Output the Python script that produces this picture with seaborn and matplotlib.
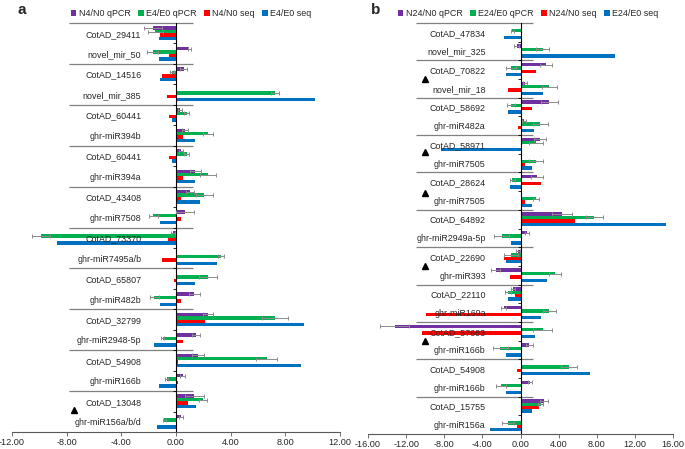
import matplotlib
matplotlib.use("Agg")
import matplotlib.pyplot as plt
import numpy as np
import pandas as pd
import seaborn as sns

sns.set_style("white")
plt.rcParams['font.family'] = ['Liberation Sans', 'DejaVu Sans']
plt.rcParams['axes.unicode_minus'] = False

# ---- panel a ----
cats_a = ["CotAD_29411", "novel_mir_50", "CotAD_14516", "novel_mir_385",
          "CotAD_60441", "ghr-miR394b", "CotAD_60441", "ghr-miR394a",
          "CotAD_43408", "ghr-miR7508", "CotAD_73370", "ghr-miR7495a/b",
          "CotAD_65807", "ghr-miR482b", "CotAD_32799", "ghr-miR2948-5p",
          "CotAD_54908", "ghr-miR166b", "CotAD_13048", "ghr-miR156a/b/d"]
names_a = ["N4/N0 qPCR", "E4/E0 qPCR", "N4/N0 seq", "E4/E0 seq"]
qpcr_n_a = [-1.71, 0.98, 0.56, 0, 0.30, 0.68, 0.37, 1.42, 1.05, 0.68,
            -0.24, 0, 0, 1.34, 2.37, 1.47, 1.59, 0.49, 1.34, 0.37]
err_n_a = [0.66, 0.10, 0.25, 0, 0.12, 0.22, 0.12, 0.42, 0.29, 0.66,
           0.15, 0, 0, 0.42, 0.37, 0.27, 0.44, 0.17, 0.68, 0.15]
qpcr_e_a = [-1.51, -1.71, -0.29, 7.25, 0.78, 2.34, 0.78, 2.34, 2.08, -1.66,
            -9.89, 3.30, 2.32, -1.59, 7.25, -0.98, 6.64, -0.68, 1.95, -0.85]
err_e_a = [0.56, 0.42, 0.15, 0.27, 0.20, 0.37, 0.20, 0.61, 0.61, 0.34,
           0.68, 0.20, 0.66, 0.32, 0.93, 0.12, 0.76, 0.12, 0.30, 0.12]
seq_n_a = [-1.15, -0.54, -1.03, -0.68, -0.54, 0.49, -0.54, 0.49, 0.39, 0.39,
           -0.56, -1.03, -0.17, 0.37, 2.12, 0.51, 0.12, 0.17, 0.90, 0]
seq_e_a = [-1.25, -1.25, -1.15, 10.18, -0.32, 1.39, -0.32, 1.39, 1.78, -1.15,
           -8.72, 3.00, 1.37, -1.15, 9.35, -1.59, 9.16, -1.22, 1.47, -1.42]
tri_a_x = [-7.47]
tri_a_y = [18.4]

# ---- panel b ----
cats_b = ["CotAD_47834", "novel_mir_325", "CotAD_70822", "novel_mir_18",
          "CotAD_58692", "ghr-miR482a", "CotAD_58971", "ghr-miR7505",
          "CotAD_28624", "ghr-miR7505", "CotAD_64892", "ghr-miR2949a-5p",
          "CotAD_22690", "ghr-miR393", "CotAD_22110", "ghr-miR169a",
          "CotAD_57683", "ghr-miR166b", "CotAD_54908", "ghr-miR166b",
          "CotAD_15755", "ghr-miR156a"]
names_b = ["N24/N0 qPCR", "E24/E0 qPCR", "N24/N0 seq", "E24/E0 seq"]
qpcr_n_b = [0, -0.38, 2.66, 0.49, 3.04, 0.38, 2.06, 0, 1.71, 0, 4.34,
            0.66, -0.28, -2.59, -0.80, -1.78, -13.2, 0.94, 0, 1.01, 2.48, 0]
err_n_b = [0, 0.25, 0.60, 0.20, 0.94, 0.20, 0.60, 0, 0.63, 0, 1.05,
           0.20, 0.20, 0.49, 0.20, 0.25, 1.50, 0.35, 0, 0.18, 0.45, 0]
qpcr_e_b = [-0.84, 2.34, -1.01, 3.04, -1.01, 2.06, 1.64, 1.64, -0.84, 1.64, 7.76,
            -1.96, -1.01, 3.64, -1.33, 3.04, 2.34, -2.13, 5.10, -2.06, 2.10, -1.33]
err_e_b = [0.20, 0.70, 0.50, 0.77, 0.40, 0.80, 0.77, 0.77, 0.25, 0.35, 0.94,
           0.77, 0.77, 0.60, 0.30, 0.66, 1.00, 0.77, 0.87, 0.52, 0.25, 0.63]
seq_n_b = [0, 0.17, 1.61, -1.33, 1.19, -0.31, 0, 0.42, 2.17, 0.42, 5.73,
           0.07, -1.68, -1.08, -0.56, -9.90, -10.3, 0.17, -0.38, 0.17, 1.96, -0.38]
seq_e_b = [-1.78, 9.93, -1.50, 2.41, -1.33, 1.43, -8.32, 1.19, -1.15, 1.19, 15.28,
           -0.98, -1.50, 2.76, -1.36, 2.13, 1.54, -1.54, 7.31, -1.54, 1.19, -3.18]
tri_b_x = [-10.0, -10.0, -10.0, -10.0, -10.0]
tri_b_y = [2.5, 6.4, 8.6, 12.5, 16.5]

colors = ["#7030A0", "#00B050", "#FF0000", "#0070C0"]


def draw_panel(ax, cats, cols, errs, names, xmax, step, bar_w,
               sep_x, tri_x, tri_y, leg_x):
    n = len(cats)
    rows = []
    for name, vals in zip(names, cols):
        for i, v in enumerate(vals):
            rows.append({"row": i, "value": v, "serie": name})
    df = pd.DataFrame(rows)

    sns.barplot(data=df, x="value", y="row", hue="serie", hue_order=names,
                order=list(range(n)), palette=dict(zip(names, colors)),
                orient="h", width=bar_w, saturation=1, errorbar=None,
                linewidth=0, edgecolor="none", ax=ax)

    # error bars on the qPCR series
    for k in (0, 1):
        xs, ys, es = [], [], []
        for bar in ax.containers[k]:
            yc = bar.get_y() + bar.get_height() / 2
            idx = int(round(yc))
            if errs[k][idx] == 0:
                continue
            xs.append(bar.get_x() + bar.get_width())
            ys.append(yc)
            es.append(errs[k][idx])
        ax.errorbar(xs, ys, xerr=es, fmt="none", ecolor="#8c8c8c",
                    elinewidth=0.7, capsize=1.6, capthick=0.7, zorder=3)

    # separators between pairs
    seps = [-0.5] + [2 * i + 1.5 for i in range(n // 2 - 1)]
    ax.hlines(seps, sep_x[0], sep_x[1], color="#808080", lw=0.9, clip_on=False)

    ax.plot(tri_x, tri_y, linestyle="none", marker="^", color="black", markersize=4)

    ax.set_xlim(-xmax, xmax)
    ax.set_ylim(n - 0.5, -0.5)
    ticks = np.arange(-xmax, xmax + step / 2, step)
    ax.set_xticks(ticks, labels=["%.2f" % t for t in ticks])
    ax.set_yticks(range(n), labels=cats)
    ax.set_yticks([i + 0.5 for i in range(n - 1)], minor=True)
    ax.set_xlabel("")
    ax.set_ylabel("")

    ax.spines["left"].set_position(("data", 0))
    ax.spines["left"].set_color("black")
    ax.spines["left"].set_linewidth(0.8)
    ax.spines["bottom"].set_color("#595959")
    ax.spines["bottom"].set_linewidth(0.8)
    ax.spines["top"].set_visible(False)
    ax.spines["right"].set_visible(False)
    ax.set_axisbelow(False)

    ax.tick_params(axis="y", which="major", length=0, pad=25, labelsize=6.4)
    ax.tick_params(axis="y", which="minor", length=2.5, width=0.6,
                   direction="out", color="black", left=True)
    ax.tick_params(axis="x", length=3, width=0.6, direction="out",
                   color="#595959", bottom=True, labelsize=6.6, pad=1.5)

    handles, labels = ax.get_legend_handles_labels()
    ax.get_legend().remove()
    ax.legend(handles, labels, loc="lower center", bbox_to_anchor=(leg_x, 1.0),
              ncol=4, frameon=False, fontsize=6.4, handlelength=0.6,
              handleheight=0.6, columnspacing=0.9, handletextpad=0.25,
              borderaxespad=0.15)


fig = plt.figure(figsize=(6.85, 4.49), dpi=100)
ax_a = fig.add_axes([12 / 685, 17 / 449, 328 / 685, 409 / 449])
ax_b = fig.add_axes([368 / 685, 15 / 449, 305 / 685, 411 / 449])

draw_panel(ax_a, cats_a, [qpcr_n_a, qpcr_e_a, seq_n_a, seq_e_a],
           [err_n_a, err_e_a], names_a, 12, 4, 0.67,
           (-7.84, 1.25), tri_a_x, tri_a_y, 0.546)
draw_panel(ax_b, cats_b, [qpcr_n_b, qpcr_e_b, seq_n_b, seq_e_b],
           [err_n_b, err_e_b], names_b, 16, 4, 0.72,
           (-11.0, 1.3), tri_b_x, tri_b_y, 0.525)

fig.text(22 / 685, 1 - 10 / 449, "a", fontsize=11, weight="bold", ha="center", va="center")
fig.text(376 / 685, 1 - 10 / 449, "b", fontsize=11, weight="bold", ha="center", va="center")

fig.savefig("out.png", dpi=100)
